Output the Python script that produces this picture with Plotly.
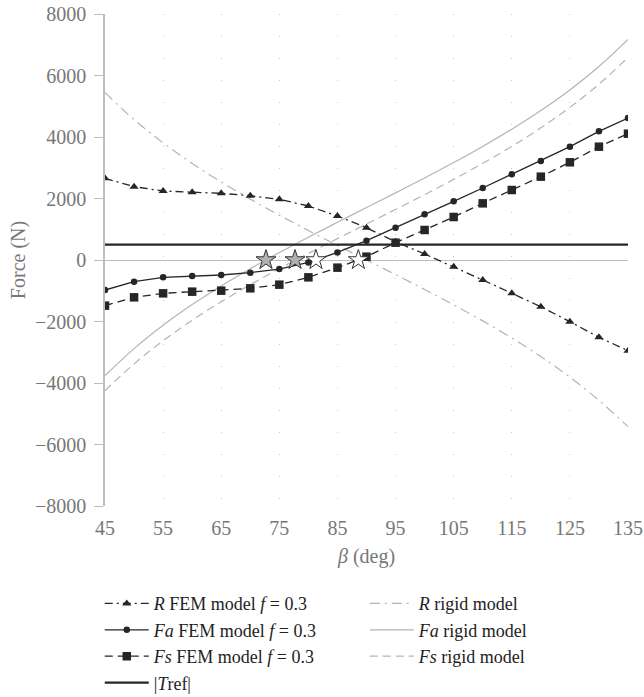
import plotly.graph_objects as go

# ---------------- data ----------------
beta = [45, 50, 55, 60, 65, 70, 75, 80, 85, 90, 95, 100, 105, 110, 115, 120, 125, 130, 135]

R_fem = [2657, 2385, 2244, 2200, 2168, 2092, 1973, 1756, 1430, 1050, 590, 195, -217, -650,
         -1084, -1518, -2005, -2515, -2948]
Fa_fem = [-976, -705, -563, -520, -488, -412, -295, -80, 245, 629, 1050, 1485, 1908, 2341,
          2786, 3220, 3685, 4184, 4618]
Fs_fem = [-1485, -1214, -1084, -1030, -997, -921, -802, -564, -249, 108, 563, 976, 1398, 1843,
          2276, 2710, 3177, 3685, 4108]

R_rigid = [5441, 4566, 3810, 3141, 2537, 1980, 1458, 959, 476, 0, -476, -959, -1458, -1980,
           -2537, -3141, -3810, -4566, -5420]
Fa_rigid = [-3760, -2881, -2122, -1450, -843, -284, 241, 742, 1227, 1705, 2183, 2668, 3169,
            3694, 4253, 4860, 5530, 6291, 7170]
Fs_rigid = [-4250, -3378, -2625, -1960, -1357, -803, -282, 214, 696, 1170, 1644, 2126, 2622,
            3144, 3696, 4299, 4964, 5718, 6590]

T_ref = 500

zero_beta = [72.7, 77.7, 81.3, 88.6]
zero_force = [0, 0, 0, 0]
zero_fill = ["#b0b0b0", "#b0b0b0", "#ffffff", "#ffffff"]

# ---------------- styles ----------------
DARK = "#262626"
GRAY = "#b4b4b4"
FONT = "Liberation Serif"

fig = go.Figure()

# rigid model curves (behind)
fig.add_trace(go.Scatter(x=beta, y=R_rigid, mode="lines", name="<i>R</i> rigid model",
                         line=dict(color=GRAY, width=1.2, dash="10px,5px,2px,5px", shape="spline"),
                         legendrank=2))
fig.add_trace(go.Scatter(x=beta, y=Fa_rigid, mode="lines", name="<i>Fa</i> rigid model",
                         line=dict(color=GRAY, width=1.2, shape="spline"), legendrank=4))
fig.add_trace(go.Scatter(x=beta, y=Fs_rigid, mode="lines", name="<i>Fs</i> rigid model",
                         line=dict(color=GRAY, width=1.2, dash="8px,5px", shape="spline"),
                         legendrank=6))

# Tref line
fig.add_trace(go.Scatter(x=[beta[0], beta[-1]], y=[T_ref, T_ref], mode="lines",
                         name="|<i>T</i>ref|", line=dict(color=DARK, width=2.2), legendrank=7))

# FEM curves
fig.add_trace(go.Scatter(x=beta, y=R_fem, mode="lines+markers",
                         name="<i>R</i> FEM model <i>f</i> = 0.3",
                         line=dict(color=DARK, width=1.3, dash="8px,4px,2px,4px"),
                         marker=dict(symbol="triangle-up", size=8, color=DARK), legendrank=1))
fig.add_trace(go.Scatter(x=beta, y=Fa_fem, mode="lines+markers",
                         name="<i>Fa</i> FEM model <i>f</i> = 0.3",
                         line=dict(color=DARK, width=1.3),
                         marker=dict(symbol="circle", size=6.5, color=DARK), legendrank=3))
fig.add_trace(go.Scatter(x=beta, y=Fs_fem, mode="lines+markers",
                         name="<i>Fs</i> FEM model <i>f</i> = 0.3",
                         line=dict(color=DARK, width=1.3, dash="8px,5px"),
                         marker=dict(symbol="square", size=8.5, color=DARK), legendrank=5))

# zero-crossing stars
fig.add_trace(go.Scatter(x=zero_beta, y=zero_force, mode="markers", showlegend=False,
                         marker=dict(symbol="star", size=15, color=zero_fill,
                                     line=dict(color="#333333", width=1))))

fig.update_layout(
    width=644, height=697,
    margin=dict(l=105, r=16, t=14, b=191, autoexpand=False),
    paper_bgcolor="white", plot_bgcolor="white",
    font=dict(family=FONT, size=20, color="#777777"),
    showlegend=True,
    legend=dict(orientation="h", x=-0.01, xanchor="left",
                y=-0.161, yanchor="top",
                font=dict(family=FONT, size=18, color="#222222"),
                entrywidth=206, entrywidthmode="pixels",
                bgcolor="rgba(0,0,0,0)", itemwidth=44),
)

fig.update_xaxes(range=[45, 135], tick0=45, dtick=10, showline=False,
                 ticks="outside", ticklen=4, tickcolor="rgba(0,0,0,0)",
                 showgrid=True, gridcolor="#c8c8c8", griddash="1px,21px", gridwidth=1,
                 zeroline=False,
                 tickfont=dict(family=FONT, size=20, color="#777777"),
                 title=dict(text="<i>β</i> (deg)", standoff=10,
                            font=dict(family=FONT, size=20, color="#777777")))
fig.update_yaxes(range=[-8000, 8000], tick0=-8000, dtick=2000,
                 showline=True, linecolor="#bdbdbd", linewidth=1.5,
                 ticks="outside", ticklen=9, tickcolor="#bdbdbd", tickwidth=1.2,
                 showgrid=False,
                 zeroline=True, zerolinecolor="#bdbdbd", zerolinewidth=1.2,
                 tickfont=dict(family=FONT, size=20, color="#777777"),
                 ticklabelstandoff=4,
                 title=dict(text="Force (N)", standoff=4,
                            font=dict(family=FONT, size=20, color="#777777")))

fig.write_html("out.html")
